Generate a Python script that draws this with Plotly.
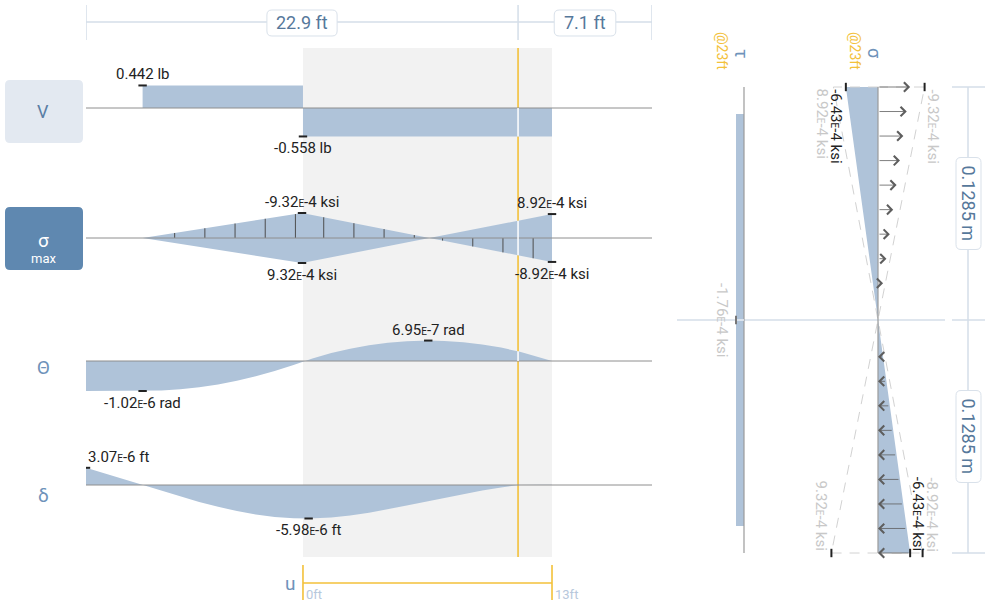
import numpy as np
import plotly.graph_objects as go

W, H = 1000, 605
FONT = "Roboto, 'Open Sans', Arial, sans-serif"

# ---------------- data ----------------
span_lengths = [22.9, 7.1]
span_labels = ["22.9 ft", "7.1 ft"]
cursor_ft = 22.9
cursor_label = "@23ft"
element_start = 11.5
element_end = 24.7
u_tick_labels = ["0ft", "13ft"]

shear_x = [0.0, 3.0, 3.0, 11.5, 11.5, 24.7, 24.7, 30.0]
shear_v = [0.0, 0.0, 0.442, 0.442, -0.558, -0.558, 0.0, 0.0]
shear_mark_x = [3.0, 11.5]
shear_mark_v = [0.442, -0.558]
shear_mark_txt = ["0.442 lb", "-0.558 lb"]

stress_x = [3.0, 11.45, 18.2, 24.7]
stress_v = [0.0, 9.32e-4, 0.0, -8.92e-4]
stress_hatch_x = [4.7, 6.3, 7.9, 9.5, 11.1, 12.6, 14.2, 15.8, 17.4, 18.9, 20.5, 22.1, 23.7]
stress_mark_x = [11.45, 11.45, 24.7, 24.7]
stress_mark_v = [9.32e-4, -9.32e-4, 8.92e-4, -8.92e-4]
stress_mark_txt = ["-9.32E-4 ksi", "9.32E-4 ksi", "8.92E-4 ksi", "-8.92E-4 ksi"]

slope_x = [0, 1, 2, 3, 4, 5, 6, 7, 8, 9, 10, 11, 11.45, 12, 13, 14, 15, 16, 17,
           18.14, 19, 20, 21, 22, 23, 24, 24.7]
slope_v = [-10.2, -10.2, -10.2, -10.2, -10.06, -9.65, -8.95, -7.98, -6.74, -5.21,
           -3.41, -1.34, -0.31, 0.86, 2.68, 4.18, 5.36, 6.21, 6.75, 6.95, 6.83,
           6.39, 5.63, 4.55, 3.14, 1.41, 0.0]  # x 1e-7 rad
slope_mark_x = [3.0, 18.14]
slope_mark_v = [-1.02e-6, 6.95e-7]
slope_mark_txt = ["-1.02E-6 rad", "6.95E-7 rad"]

defl_x = [0, 1, 2, 3, 4, 5, 6, 7, 8, 9, 10, 11, 11.8, 13, 14, 15, 16, 17, 18, 19,
          20, 21, 22, 22.9, 24, 24.7]
defl_v = [3.07, 2.05, 1.02, 0.0, -1.04, -2.06, -3.02, -3.89, -4.65, -5.26, -5.71,
          -5.95, -5.98, -5.79, -5.44, -4.95, -4.35, -3.68, -2.98, -2.27, -1.59,
          -0.97, -0.44, 0.0, 0.03, 0.03]  # x 1e-6 ft
defl_mark_x = [0.0, 11.8]
defl_mark_v = [3.07e-6, -5.98e-6]
defl_mark_txt = ["3.07E-6 ft", "-5.98E-6 ft"]

sec_half = 0.1285
tau_y = [0.1285, 0.1136, 0.1136, -0.1136, -0.1136, -0.1285]
tau_v = [0.0, 0.0, -1.76e-4, -1.76e-4, 0.0, 0.0]
tau_txt = "-1.76E-4 ksi"
sig_y = [0.1285, -0.1285]
sig_v = [-6.43e-4, 6.43e-4]
sig_txt = ["-6.43E-4 ksi", "-6.43E-4 ksi"]
env_a = [9.32e-4, -9.32e-4]
env_a_txt = ["-9.32E-4 ksi", "9.32E-4 ksi"]
env_b = [-8.92e-4, 8.92e-4]
env_b_txt = ["8.92E-4 ksi", "-8.92E-4 ksi"]
n_arrows = 20

# ---------------- style ----------------
FILL = "#afc3d9"
BASE = "#8e8e8e"
YEL = "#f3c13a"
DIM = "#d4dee9"
LBL = "#6f93ba"
DARK = "#222222"
LIGHT = "#c8c8c8"
DIMTXT = "#56789b"


def small_e(s):
    return s.replace("E", "<span style='font-size:10px'>E</span>")


def dom_x(a, b):
    return [a / W, b / W]


def dom_y(top, bot):
    return [1 - bot / H, 1 - top / H]


def py(p):
    return 1 - p / H


fig = go.Figure()
shapes, annotations = [], []
beam_len = sum(span_lengths)

# pixel placement of the panels
BEAM_PX = (86, 652)
SEC_CY, SEC_HALF_PX = 320, 233

axes = {}
hidden = dict(visible=False, showgrid=False, zeroline=False, fixedrange=True)
axes["xaxis"] = dict(domain=dom_x(*BEAM_PX), range=[0, beam_len], anchor="y", **hidden)
rows = [("", 108, 51.0), ("2", 238, 25 / 9.32e-4), ("3", 361, 29.4e6), ("4", 485, 5.6e6)]
for suf, c, s in rows:
    axes["yaxis" + suf] = dict(domain=dom_y(c - 50, c + 50), range=[-50 / s, 50 / s],
                               anchor="x", **hidden)
# section axes
tau_s, sig_s = 45450.0, 50000.0
dep_s = SEC_HALF_PX / sec_half
axes["xaxis2"] = dict(domain=dom_x(700, 800), range=[(700 - 744) / tau_s, (800 - 744) / tau_s],
                      anchor="y5", **hidden)
axes["xaxis3"] = dict(domain=dom_x(800, 950), range=[(800 - 878) / sig_s, (950 - 878) / sig_s],
                      anchor="y6", **hidden)
axes["yaxis5"] = dict(domain=dom_y(SEC_CY - 253, SEC_CY + 253), range=[-253 / dep_s, 253 / dep_s],
                      anchor="x2", **hidden)
axes["yaxis6"] = dict(domain=dom_y(SEC_CY - 253, SEC_CY + 253), range=[-253 / dep_s, 253 / dep_s],
                      anchor="x3", **hidden)


def line_trace(x, y, xa, ya, color, width=1, dash=None):
    fig.add_trace(go.Scatter(x=x, y=y, xaxis=xa, yaxis=ya, mode="lines",
                             line=dict(color=color, width=width, dash=dash),
                             hoverinfo="skip", showlegend=False))


def fill_trace(x, y, xa, ya, fill):
    fig.add_trace(go.Scatter(x=x, y=y, xaxis=xa, yaxis=ya, mode="lines", fill=fill,
                             fillcolor=FILL, line=dict(width=0, color=FILL),
                             hoverinfo="skip", showlegend=False))


def ticks(x, y, xa, ya, symbol="line-ew", color=DARK):
    fig.add_trace(go.Scatter(x=x, y=y, xaxis=xa, yaxis=ya, mode="markers",
                             marker=dict(symbol=symbol, size=6, line=dict(width=2, color=color)),
                             hoverinfo="skip", showlegend=False))


def label(txt, x, y, xa, ya, above, xanchor="center", color=DARK, size=15, **kw):
    annotations.append(dict(text=small_e(txt), x=x, y=y, xref=xa, yref=ya, showarrow=False,
                            xanchor=xanchor, yanchor="bottom" if above else "top",
                            yshift=0 if above else -1,
                            font=dict(size=size, color=color), **kw))


def ptext(text, x, y, size, color, xref="paper", yref="paper", **kw):
    d = dict(text=text, x=x, y=y, xref=xref, yref=yref, showarrow=False,
             xanchor="center", yanchor="middle", font=dict(size=size, color=color))
    d.update(kw)
    annotations.append(d)


def rrect(x0, y0, x1, y1, r, color, line_color=None):
    def P(x, y):
        return f"{x / W:.5f},{1 - y / H:.5f}"
    path = (f"M{P(x0 + r, y0)} L{P(x1 - r, y0)} Q{P(x1, y0)} {P(x1, y0 + r)} "
            f"L{P(x1, y1 - r)} Q{P(x1, y1)} {P(x1 - r, y1)} L{P(x0 + r, y1)} "
            f"Q{P(x0, y1)} {P(x0, y1 - r)} L{P(x0, y0 + r)} Q{P(x0, y0)} {P(x0 + r, y0)} Z")
    shapes.append(dict(type="path", xref="paper", yref="paper", path=path, fillcolor=color,
                       line=dict(width=1 if line_color else 0, color=line_color or color)))


def beam_px(ft):
    return BEAM_PX[0] + ft * (BEAM_PX[1] - BEAM_PX[0]) / beam_len


# ---------- background: element region, cursor ----------
shapes.append(dict(type="rect", xref="x", yref="paper", x0=element_start, x1=element_end,
                   y0=py(557), y1=py(48), fillcolor="#f2f2f2", line=dict(width=0), layer="below"))
shapes.append(dict(type="line", xref="x", yref="paper", x0=cursor_ft, x1=cursor_ft,
                   y0=py(557), y1=py(48), line=dict(color=YEL, width=1.6), layer="below"))

# ---------- top dimension ----------
cum = np.concatenate([[0], np.cumsum(span_lengths)])
shapes.append(dict(type="line", xref="x", yref="paper", x0=0, x1=beam_len, y0=py(22), y1=py(22),
                   line=dict(color=DIM, width=1.5)))
for c in cum:
    shapes.append(dict(type="line", xref="x", yref="paper", x0=c, x1=c, y0=py(5), y1=py(40),
                       line=dict(color=DIM, width=1.5)))
for i, t in enumerate(span_labels):
    mid = (cum[i] + cum[i + 1]) / 2
    bw = 10 + 8.6 * len(t)
    cx = beam_px(mid)
    rrect(cx - bw / 2, 10, cx + bw / 2, 36, 5, "white", "#d9e1ea")
    ptext(t, mid, py(23), 18, DIMTXT, xref="x")

# ---------- row V ----------
fill_trace(shear_x, shear_v, "x", "y", "tozeroy")
line_trace([0, beam_len], [0, 0], "x", "y", BASE)
vc = np.interp(cursor_ft, shear_x, shear_v)
line_trace([cursor_ft, cursor_ft], [0, vc], "x", "y", "white", 1.5)
ticks(shear_mark_x, shear_mark_v, "x", "y")
for x, v, t in zip(shear_mark_x, shear_mark_v, shear_mark_txt):
    label(t, x, v, "x", "y", v > 0)

# ---------- row sigma ----------
sx = np.array(stress_x)
sa = np.abs(np.array(stress_v))
fill_trace(list(sx) + list(sx[::-1]), list(sa) + list(-sa[::-1]), "x", "y2", "toself")
hx, hy = [], []
for h in stress_hatch_x:
    hx += [h, h, None]
    hy += [0, float(np.interp(h, stress_x, stress_v)), None]
line_trace(hx, hy, "x", "y2", "#4d4d4d", 1)
line_trace([0, beam_len], [0, 0], "x", "y2", BASE)
sc = abs(float(np.interp(cursor_ft, stress_x, stress_v)))
line_trace([cursor_ft, cursor_ft], [-sc, sc], "x", "y2", "white", 1.5)
ticks(stress_mark_x, stress_mark_v, "x", "y2")
for x, v, t in zip(stress_mark_x, stress_mark_v, stress_mark_txt):
    label(t, x, v, "x", "y2", v > 0)

# ---------- row theta ----------
tv = np.array(slope_v) * 1e-7
fill_trace(slope_x, tv, "x", "y3", "tozeroy")
line_trace([0, beam_len], [0, 0], "x", "y3", BASE)
tc = float(np.interp(cursor_ft, slope_x, tv))
line_trace([cursor_ft, cursor_ft], [0, tc], "x", "y3", "white", 1.5)
ticks(slope_mark_x, slope_mark_v, "x", "y3")
for x, v, t in zip(slope_mark_x, slope_mark_v, slope_mark_txt):
    label(t, x, v, "x", "y3", v > 0)

# ---------- row delta ----------
dv = np.array(defl_v) * 1e-6
fill_trace(defl_x, dv, "x", "y4", "tozeroy")
line_trace([0, beam_len], [0, 0], "x", "y4", BASE)
ticks(defl_mark_x, defl_mark_v, "x", "y4")
for x, v, t in zip(defl_mark_x, defl_mark_v, defl_mark_txt):
    label(t, x, v, "x", "y4", v > 0, xanchor="left" if x == 0 else "center")

# ---------- left row labels ----------
rrect(5, 80, 83, 143, 5, "#e3e9f1")
rrect(5, 207, 83, 270, 5, "#5f88b0")
ptext("V", 43 / W, py(112), 18, "#5a7ea5")
ptext("σ", 43 / W, py(240), 19, "white")
ptext("max", 43 / W, py(259), 13, "white")
ptext("Θ", 43 / W, py(367), 19, LBL)
ptext("δ", 43 / W, py(495), 19, LBL)

# ---------- u bracket ----------
for xe in (element_start, element_end):
    shapes.append(dict(type="line", xref="x", yref="paper", x0=xe, x1=xe, y0=py(600), y1=py(565),
                       line=dict(color=YEL, width=1.6)))
shapes.append(dict(type="line", xref="x", yref="paper", x0=element_start, x1=element_end,
                   y0=py(583), y1=py(583), line=dict(color=YEL, width=1.6)))
ptext("u", element_start, py(583), 19, LBL, xref="x", xanchor="right", xshift=-6)
for xe, t in zip((element_start, element_end), u_tick_labels):
    ptext(t, xe, py(594), 13, "#b7c8dc", xref="x", xanchor="left", xshift=1)

# ---------- section: tau ----------
shapes.append(dict(type="line", xref="paper", yref="y5", x0=677 / W, x1=945 / W, y0=0, y1=0,
                   line=dict(color=DIM, width=1.5), layer="below"))
fill_trace(tau_v, tau_y, "x2", "y5", "tozerox")
line_trace([0, 0], [sec_half, -sec_half], "x2", "y5", "#9a9a9a", 1.2)
line_trace([tau_v[2], 0], [0, 0], "x2", "y5", "#e9eef4", 1.5)
ticks([tau_v[2]], [0], "x2", "y5", symbol="line-ns", color="#777777")
ptext(small_e(tau_txt), tau_v[2], 0, 15, LIGHT, xref="x2", yref="y5", textangle=90, xshift=-14)
ptext("τ", 0, py(53), 18, LBL, xref="x2", textangle=90, xshift=-2)
ptext(cursor_label, 0, py(51), 14, YEL, xref="x2", textangle=90, xshift=-22)

# ---------- section: sigma ----------
fill_trace([0, sig_v[0], sig_v[1], 0], [sig_y[0], sig_y[0], sig_y[1], sig_y[1]], "x3", "y6", "toself")
for env in (env_a, env_b):
    line_trace([0, env[0], env[1], 0], [sig_y[0], sig_y[0], sig_y[1], sig_y[1]], "x3", "y6",
               "#d2d2d2", 1, dash="10px,8px")
line_trace([0, 0], [sec_half, -sec_half], "x3", "y6", "#9a9a9a", 1.2)
for yy in np.linspace(sig_y[0], sig_y[1], n_arrows):
    s = abs(float(np.interp(yy, sig_y[::-1], sig_v[::-1])))
    if yy > 0:
        hx_, tx_ = s, 0.0
    else:
        hx_, tx_ = 0.0, s
    annotations.append(dict(text="", x=hx_, y=yy, ax=tx_, ay=yy, xref="x3", yref="y6",
                            axref="x3", ayref="y6", showarrow=True, arrowhead=4, arrowsize=2.3,
                            arrowwidth=0.8, arrowcolor="#5e5e5e", standoff=0))
ticks([sig_v[0], env_a[0], env_a[1], sig_v[1], env_b[1]],
      [sig_y[0], sig_y[0], sig_y[1], sig_y[1], sig_y[1]], "x3", "y6", symbol="line-ns")

sec_labels = [
    (sig_txt[0], sig_v[0], sig_y[0], -10, DARK),
    (env_b_txt[0], env_b[0], sig_y[0], -11, LIGHT),
    (env_a_txt[0], env_a[0], sig_y[0], 8, LIGHT),
    (env_a_txt[1], env_a[1], sig_y[1], -10, LIGHT),
    (sig_txt[1], sig_v[1], sig_y[1], 8, DARK),
    (env_b_txt[1], env_b[1], sig_y[1], 9, LIGHT),
]
for t, x, y, xs, col in sec_labels:
    annotations.append(dict(text=small_e(t), x=x, y=y, xref="x3", yref="y6", showarrow=False,
                            textangle=90, xshift=xs, yanchor="top" if y > 0 else "bottom",
                            font=dict(size=15, color=col)))
ptext("σ", 0, py(53), 18, LBL, xref="x3", textangle=90, xshift=-3)
ptext(cursor_label, 0, py(51), 14, YEL, xref="x3", textangle=90, xshift=-23)

# ---------- section depth dimension ----------
shapes.append(dict(type="line", xref="paper", yref="y6", x0=968 / W, x1=968 / W,
                   y0=-sec_half, y1=sec_half, line=dict(color=DIM, width=1.5)))
for yy in (sec_half, 0, -sec_half):
    shapes.append(dict(type="line", xref="paper", yref="y6", x0=952 / W, x1=985 / W,
                       y0=yy, y1=yy, line=dict(color=DIM, width=1.5)))
for yy in (sec_half / 2, -sec_half / 2):
    t = f"{sec_half} m"
    cy = SEC_CY - yy * dep_s
    bh = 16 + 9.5 * len(t)
    rrect(956, cy - bh / 2, 981, cy + bh / 2, 5, "white", "#d9e1ea")
    ptext(t, 968 / W, yy, 18, DIMTXT, yref="y6", textangle=90)

fig.update_layout(
    width=W, height=H, margin=dict(l=0, r=0, t=0, b=0),
    paper_bgcolor="white", plot_bgcolor="rgba(0,0,0,0)",
    font=dict(family=FONT, color=DARK), showlegend=False,
    shapes=shapes, annotations=annotations, **axes,
)
fig.write_html("out.html")
